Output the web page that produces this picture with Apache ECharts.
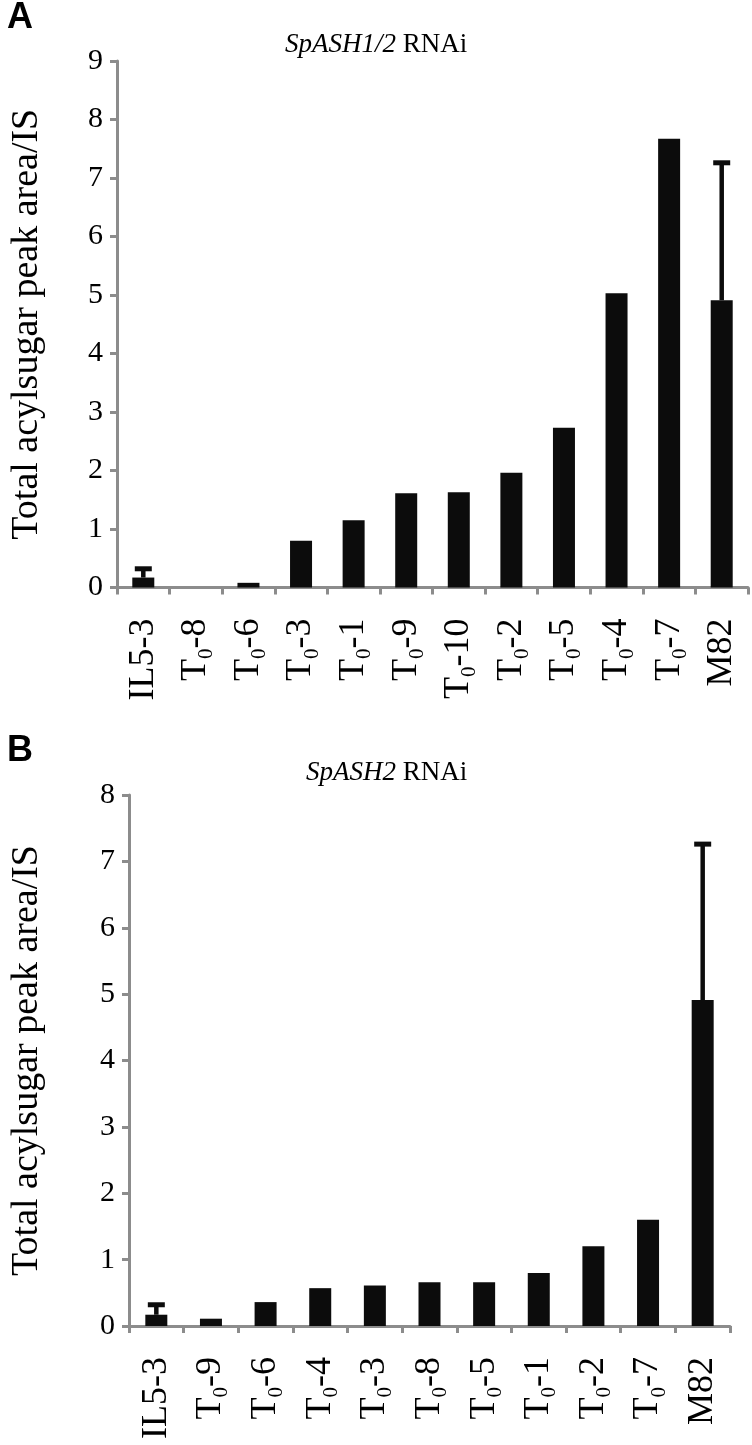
<!DOCTYPE html>
<html><head><meta charset="utf-8">
<script src="https://cdn.jsdelivr.net/npm/echarts@6/dist/echarts.min.js"></script>
<style>html,body{margin:0;padding:0;background:#fff}#c{width:752px;height:1445px}</style>
</head><body><div id="c"></div>
<script>
// ---- data ----
const categoriesA = ['IL5-3','T0-8','T0-6','T0-3','T0-1','T0-9','T0-10','T0-2','T0-5','T0-4','T0-7','M82'];
const valuesA     = [0.17, 0, 0.08, 0.80, 1.15, 1.61, 1.63, 1.96, 2.73, 5.03, 7.67, 4.91];
const errorsA     = [0.15, null, null, null, null, null, null, null, null, null, null, 2.35];
const categoriesB = ['IL5-3','T0-9','T0-6','T0-4','T0-3','T0-8','T0-5','T0-1','T0-2','T0-7','M82'];
const valuesB     = [0.17, 0.11, 0.36, 0.57, 0.61, 0.66, 0.66, 0.80, 1.20, 1.60, 4.91];
const errorsB     = [0.15, null, null, null, null, null, null, null, null, null, 2.35];
const yMaxA = 9, yMaxB = 8;
const titleA = ['SpASH1/2', ' RNAi'];
const titleB = ['SpASH2', ' RNAi'];
const yName = 'Total acylsugar peak area/IS';

const SERIF = '"Liberation Serif", "Times New Roman", serif';
const AX = '#8c8c8c';
const BAR = '#0c0c0c';

function labelFmt(v){
  const m = /^T0(.*)$/.exec(v);
  if (m) return '{t|T}{s|0}{t|' + m[1] + '}';
  return '{t|' + v + '}';
}
function errData(vals, errs){
  const out = [];
  vals.forEach((v,i)=>{ if (errs[i] != null) out.push([i, v, errs[i]]); });
  return out;
}
function errRender(params, api){
  const x = api.value(0), v = api.value(1), e = api.value(2);
  const p0 = api.coord([x, v]);
  const p1 = api.coord([x, v + e]);
  const capW = 17, stemW = 4.5, capH = 5;
  return {type:'group', children:[
    {type:'rect', shape:{x:p0[0]-stemW/2, y:p1[1], width:stemW, height:p0[1]-p1[1]}, style:{fill:BAR}},
    {type:'rect', shape:{x:p1[0]-capW/2, y:p1[1]-capH/2, width:capW, height:capH}, style:{fill:BAR}}
  ]};
}
function xAxisCfg(cats, gi){
  return {
    type:'category', gridIndex:gi, data:cats, boundaryGap:true,
    axisLine:{show:true, lineStyle:{color:AX, width:3}},
    axisTick:{show:true, length:7, lineStyle:{color:AX, width:3}},
    axisLabel:{interval:0, rotate:90, margin:31, color:'#000', fontFamily:SERIF, fontSize:36,
      formatter:labelFmt,
      rich:{
        t:{fontFamily:SERIF, fontSize:36, lineHeight:43, color:'#000'},
        s:{fontFamily:SERIF, fontSize:21, lineHeight:21, verticalAlign:'bottom', color:'#000'}
      }},
    splitLine:{show:false}
  };
}
function yAxisCfg(max, gi, gap){
  return {
    type:'value', gridIndex:gi, min:0, max:max, interval:1,
    name:yName, nameLocation:'middle', nameRotate:90, nameGap:gap,
    nameTextStyle:{fontFamily:SERIF, fontSize:38, color:'#000'},
    axisLine:{show:true, lineStyle:{color:AX, width:3}},
    axisTick:{show:true, length:7, lineStyle:{color:AX, width:3}},
    axisLabel:{margin:14, color:'#000', fontFamily:SERIF, fontSize:30},
    splitLine:{show:false}
  };
}

const chart = echarts.init(document.getElementById('c'), null, {renderer:'canvas'});
chart.setOption({
  animation:false,
  backgroundColor:'#fff',
  title:[
    {text:'{i|'+titleA[0]+'}{n|'+titleA[1]+'}', left:280, top:26,
      textStyle:{fontFamily:SERIF, fontSize:27, fontWeight:'normal', color:'#000',
        rich:{i:{fontFamily:SERIF, fontSize:27, fontStyle:'italic', color:'#000'}, n:{fontFamily:SERIF, fontSize:27, color:'#000'}}}},
    {text:'{i|'+titleB[0]+'}{n|'+titleB[1]+'}', left:301, top:754,
      textStyle:{fontFamily:SERIF, fontSize:27, fontWeight:'normal', color:'#000',
        rich:{i:{fontFamily:SERIF, fontSize:27, fontStyle:'italic', color:'#000'}, n:{fontFamily:SERIF, fontSize:27, color:'#000'}}}}
  ],
  graphic:[
    {type:'text', left:7, top:0, style:{text:'A', font:'bold 36px "Liberation Sans", Arial, sans-serif', fill:'#000'}},
    {type:'text', left:7, top:733, style:{text:'B', font:'bold 36px "Liberation Sans", Arial, sans-serif', fill:'#000'}}
  ],
  grid:[
    {left:108, right:4, top:61, height:526.5},
    {left:117, right:22, top:795, height:531}
  ],
  xAxis:[xAxisCfg(categoriesA,0), xAxisCfg(categoriesB,1)],
  yAxis:[yAxisCfg(yMaxA,0,71), yAxisCfg(yMaxB,1,83)],
  series:[
    {type:'bar', xAxisIndex:0, yAxisIndex:0, data:valuesA, barWidth:22, itemStyle:{color:BAR}},
    {type:'custom', xAxisIndex:0, yAxisIndex:0, data:errData(valuesA, errorsA), renderItem:errRender, encode:{x:0, y:1}, z:3},
    {type:'bar', xAxisIndex:1, yAxisIndex:1, data:valuesB, barWidth:22, itemStyle:{color:BAR}},
    {type:'custom', xAxisIndex:1, yAxisIndex:1, data:errData(valuesB, errorsB), renderItem:errRender, encode:{x:0, y:1}, z:3}
  ]
});
</script>
</body></html>
